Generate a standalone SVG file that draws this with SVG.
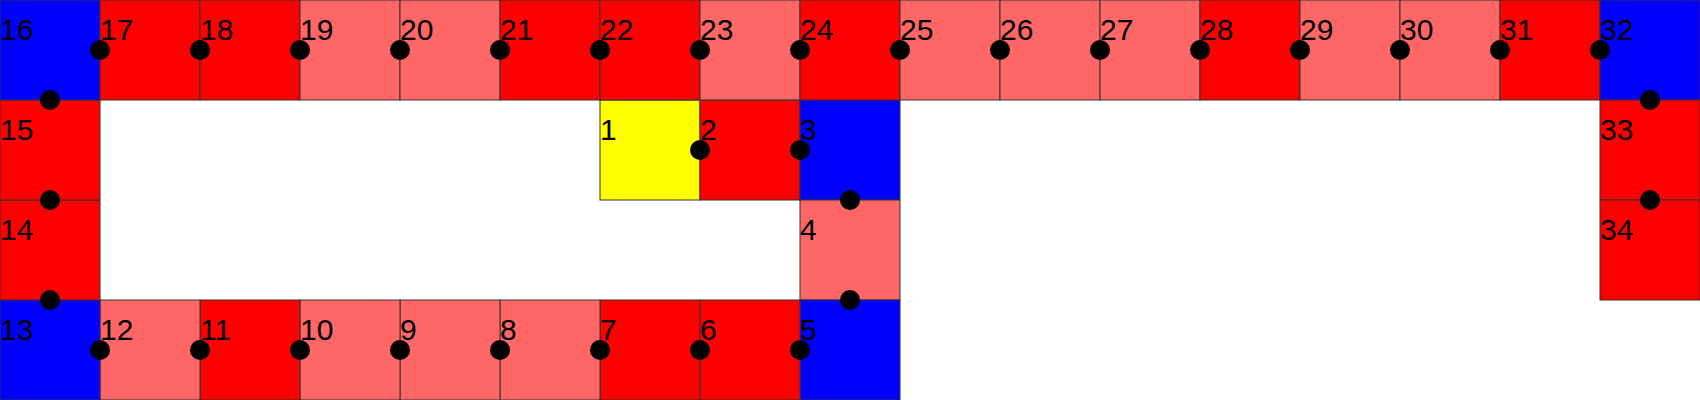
<svg xmlns="http://www.w3.org/2000/svg" width="1700" height="400" viewBox="0 0 1700 400">
<style>
.c{stroke:#333;stroke-width:1}
.r{fill:#ff0000}.l{fill:#ff6666}.b{fill:#0000ff}.y{fill:#ffff00}
text{font-family:"Liberation Sans",Arial,sans-serif;font-size:30px;fill:#000}
.d{fill:#000}
</style>
<rect width="1700" height="400" fill="#fff"/>
<g id="n1"><rect class="c y" x="600" y="100" width="100" height="100"/><text x="600" y="140">1</text></g>
<g id="n2"><rect class="c r" x="700" y="100" width="100" height="100"/><text x="700" y="140">2</text></g>
<g id="n3"><rect class="c b" x="800" y="100" width="100" height="100"/><text x="800" y="140">3</text></g>
<g id="n4"><rect class="c l" x="800" y="200" width="100" height="100"/><text x="800" y="240">4</text></g>
<g id="n5"><rect class="c b" x="800" y="300" width="100" height="100"/><text x="800" y="340">5</text></g>
<g id="n6"><rect class="c r" x="700" y="300" width="100" height="100"/><text x="700" y="340">6</text></g>
<g id="n7"><rect class="c r" x="600" y="300" width="100" height="100"/><text x="600" y="340">7</text></g>
<g id="n8"><rect class="c l" x="500" y="300" width="100" height="100"/><text x="500" y="340">8</text></g>
<g id="n9"><rect class="c l" x="400" y="300" width="100" height="100"/><text x="400" y="340">9</text></g>
<g id="n10"><rect class="c l" x="300" y="300" width="100" height="100"/><text x="300" y="340">10</text></g>
<g id="n11"><rect class="c r" x="200" y="300" width="100" height="100"/><text x="200" y="340">11</text></g>
<g id="n12"><rect class="c l" x="100" y="300" width="100" height="100"/><text x="100" y="340">12</text></g>
<g id="n13"><rect class="c b" x="0" y="300" width="100" height="100"/><text x="0" y="340">13</text></g>
<g id="n14"><rect class="c r" x="0" y="200" width="100" height="100"/><text x="0" y="240">14</text></g>
<g id="n15"><rect class="c r" x="0" y="100" width="100" height="100"/><text x="0" y="140">15</text></g>
<g id="n16"><rect class="c b" x="0" y="0" width="100" height="100"/><text x="0" y="40">16</text></g>
<g id="n17"><rect class="c r" x="100" y="0" width="100" height="100"/><text x="100" y="40">17</text></g>
<g id="n18"><rect class="c r" x="200" y="0" width="100" height="100"/><text x="200" y="40">18</text></g>
<g id="n19"><rect class="c l" x="300" y="0" width="100" height="100"/><text x="300" y="40">19</text></g>
<g id="n20"><rect class="c l" x="400" y="0" width="100" height="100"/><text x="400" y="40">20</text></g>
<g id="n21"><rect class="c r" x="500" y="0" width="100" height="100"/><text x="500" y="40">21</text></g>
<g id="n22"><rect class="c r" x="600" y="0" width="100" height="100"/><text x="600" y="40">22</text></g>
<g id="n23"><rect class="c l" x="700" y="0" width="100" height="100"/><text x="700" y="40">23</text></g>
<g id="n24"><rect class="c r" x="800" y="0" width="100" height="100"/><text x="800" y="40">24</text></g>
<g id="n25"><rect class="c l" x="900" y="0" width="100" height="100"/><text x="900" y="40">25</text></g>
<g id="n26"><rect class="c l" x="1000" y="0" width="100" height="100"/><text x="1000" y="40">26</text></g>
<g id="n27"><rect class="c l" x="1100" y="0" width="100" height="100"/><text x="1100" y="40">27</text></g>
<g id="n28"><rect class="c r" x="1200" y="0" width="100" height="100"/><text x="1200" y="40">28</text></g>
<g id="n29"><rect class="c l" x="1300" y="0" width="100" height="100"/><text x="1300" y="40">29</text></g>
<g id="n30"><rect class="c l" x="1400" y="0" width="100" height="100"/><text x="1400" y="40">30</text></g>
<g id="n31"><rect class="c r" x="1500" y="0" width="100" height="100"/><text x="1500" y="40">31</text></g>
<g id="n32"><rect class="c b" x="1600" y="0" width="100" height="100"/><text x="1600" y="40">32</text></g>
<g id="n33"><rect class="c r" x="1600" y="100" width="100" height="100"/><text x="1600" y="140">33</text></g>
<g id="n34"><rect class="c r" x="1600" y="200" width="100" height="100"/><text x="1600" y="240">34</text></g>
<g id="connectors">
<circle class="d" cx="700" cy="150" r="10"/>
<circle class="d" cx="800" cy="150" r="10"/>
<circle class="d" cx="850" cy="200" r="10"/>
<circle class="d" cx="850" cy="300" r="10"/>
<circle class="d" cx="800" cy="350" r="10"/>
<circle class="d" cx="700" cy="350" r="10"/>
<circle class="d" cx="600" cy="350" r="10"/>
<circle class="d" cx="500" cy="350" r="10"/>
<circle class="d" cx="400" cy="350" r="10"/>
<circle class="d" cx="300" cy="350" r="10"/>
<circle class="d" cx="200" cy="350" r="10"/>
<circle class="d" cx="100" cy="350" r="10"/>
<circle class="d" cx="50" cy="300" r="10"/>
<circle class="d" cx="50" cy="200" r="10"/>
<circle class="d" cx="50" cy="100" r="10"/>
<circle class="d" cx="100" cy="50" r="10"/>
<circle class="d" cx="200" cy="50" r="10"/>
<circle class="d" cx="300" cy="50" r="10"/>
<circle class="d" cx="400" cy="50" r="10"/>
<circle class="d" cx="500" cy="50" r="10"/>
<circle class="d" cx="600" cy="50" r="10"/>
<circle class="d" cx="700" cy="50" r="10"/>
<circle class="d" cx="800" cy="50" r="10"/>
<circle class="d" cx="900" cy="50" r="10"/>
<circle class="d" cx="1000" cy="50" r="10"/>
<circle class="d" cx="1100" cy="50" r="10"/>
<circle class="d" cx="1200" cy="50" r="10"/>
<circle class="d" cx="1300" cy="50" r="10"/>
<circle class="d" cx="1400" cy="50" r="10"/>
<circle class="d" cx="1500" cy="50" r="10"/>
<circle class="d" cx="1600" cy="50" r="10"/>
<circle class="d" cx="1650" cy="100" r="10"/>
<circle class="d" cx="1650" cy="200" r="10"/>
</g>
</svg>
